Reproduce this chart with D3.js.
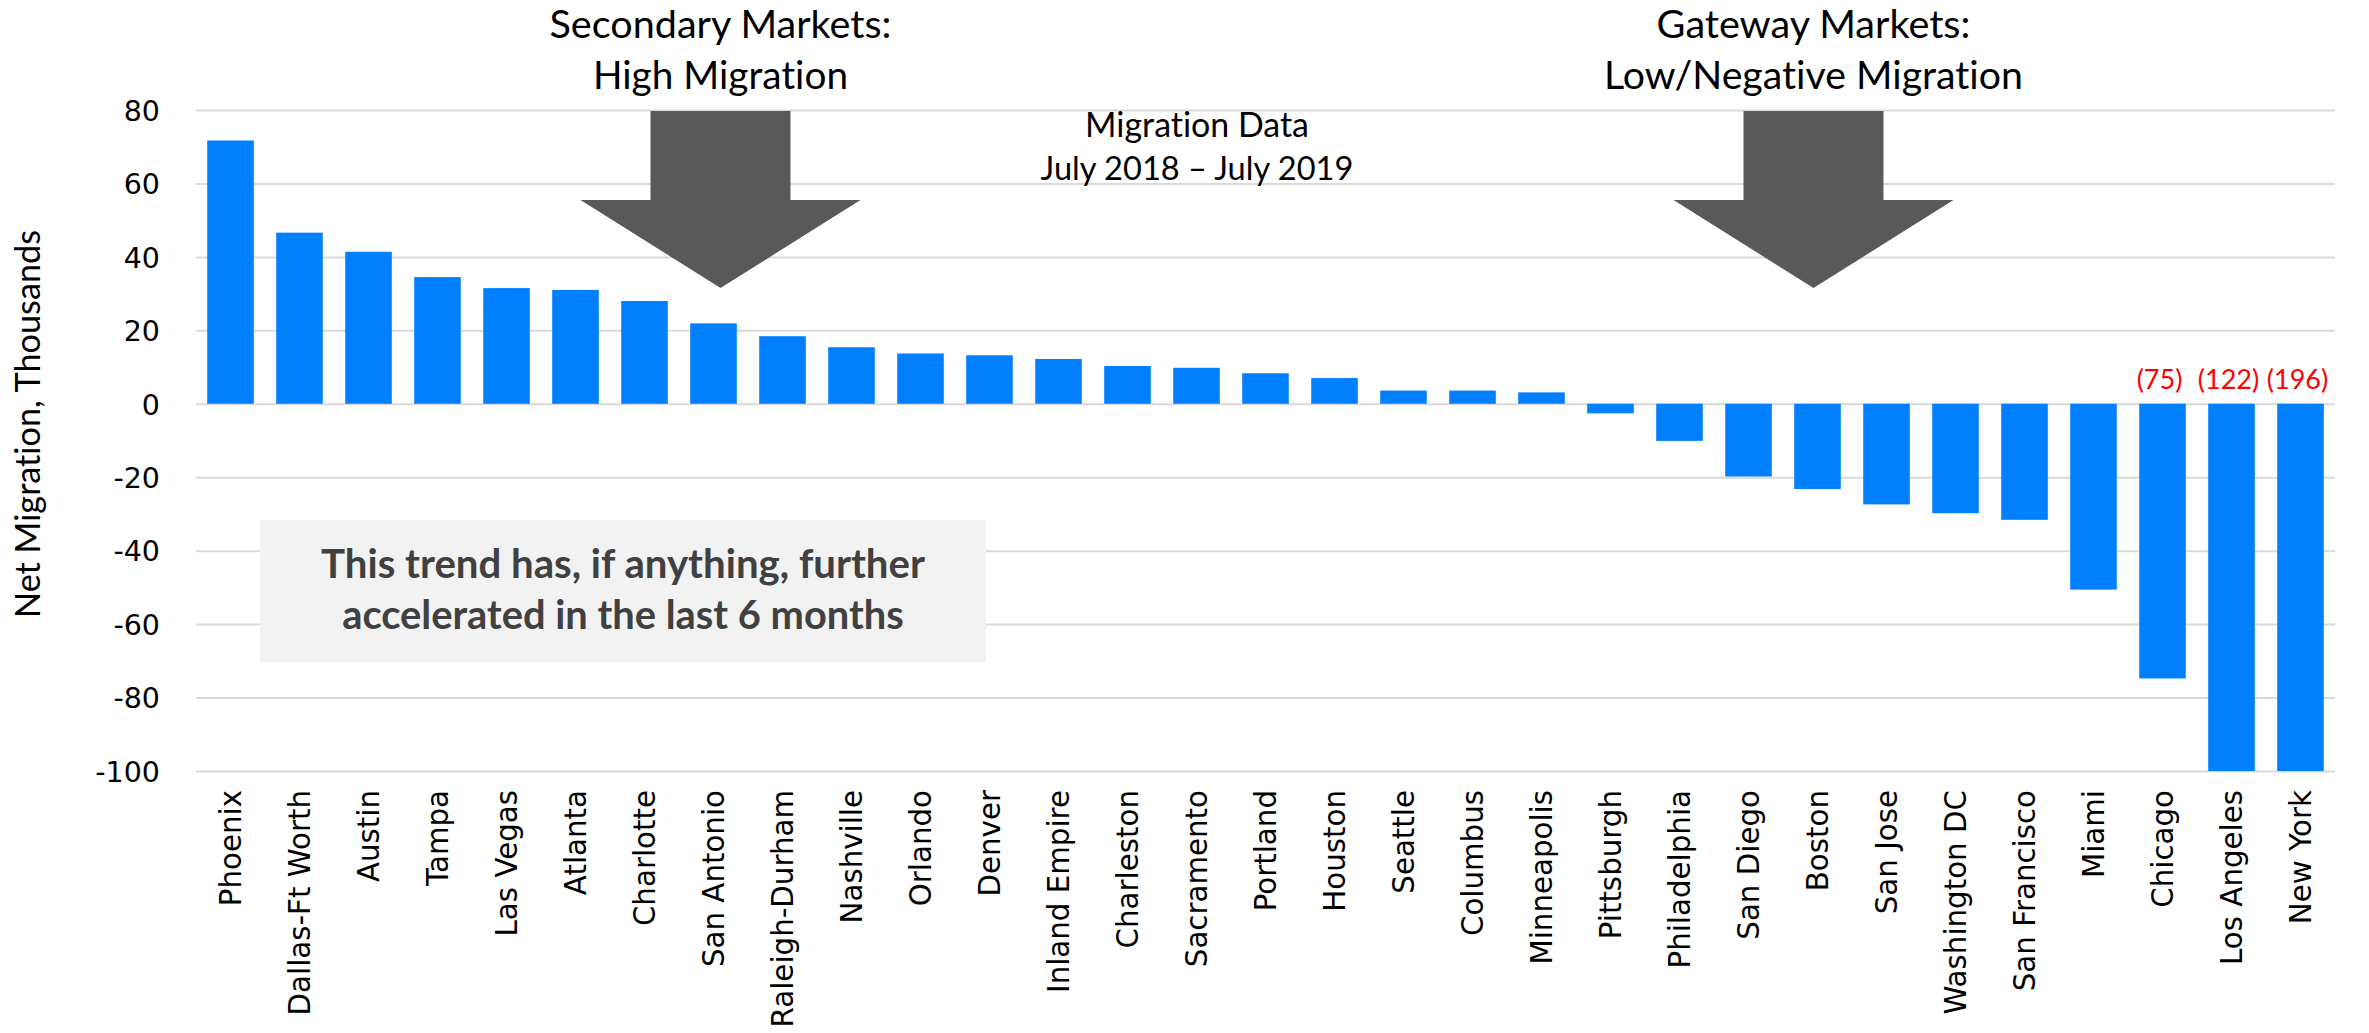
<!DOCTYPE html>
<html>
<head>
<meta charset="utf-8">
<script src="https://cdn.jsdelivr.net/npm/d3@7"></script>
<style>
  html, body { margin: 0; padding: 0; background: #fff; }
  svg { display: block; }
  svg text { font-variant-ligatures: none; font-feature-settings: "liga" 0; }
</style>
</head>
<body>
<svg id="chart" width="2369" height="1033"></svg>
<script>
// ---------------- DATA ----------------
const cities = ["Phoenix","Dallas-Ft Worth","Austin","Tampa","Las Vegas","Atlanta","Charlotte",
  "San Antonio","Raleigh-Durham","Nashville","Orlando","Denver","Inland Empire","Charleston",
  "Sacramento","Portland","Houston","Seattle","Columbus","Minneapolis","Pittsburgh","Philadelphia",
  "San Diego","Boston","San Jose","Washington DC","San Francisco","Miami","Chicago","Los Angeles","New York"];
const netMigration = [71.7, 46.6, 41.4, 34.5, 31.5, 31.0, 28.0,
  21.9, 18.4, 15.4, 13.7, 13.2, 12.2, 10.3,
  9.8, 8.3, 7.0, 3.6, 3.6, 3.1, -2.6, -10.1,
  -19.8, -23.2, -27.4, -29.8, -31.6, -50.6, -74.8, -122, -196];
const yTicks = [80, 60, 40, 20, 0, -20, -40, -60, -80, -100];
const yTitle = "Net Migration, Thousands";
const leftTitle = ["Secondary Markets:", "High Migration"];
const rightTitle = ["Gateway Markets:", "Low/Negative Migration"];
const periodNote = ["Migration Data", "July 2018 \u2013 July 2019"];
const boxNote = ["This trend has, if anything, further", "accelerated in the last 6 months"];
const leftArrowCity = "San Antonio";
const rightArrowCity = "Boston";
const calloutThreshold = -70;

// ---------------- LAYOUT ----------------
const svg = d3.select("#chart");
const data = cities.map((c, i) => ({ city: c, value: netMigration[i] }));

const gridLeft = 196, gridRight = 2335, plotTop = 110, plotBottom = 771;
const x = d3.scaleBand().domain(cities).range([gridLeft, gridRight])
  .paddingInner(0.325).paddingOuter(0.1625);
const y = d3.scaleLinear().domain([-100, 80]).range([plotBottom, plotTop]);

const BAR = "#0080FF", GRID = "#D9D9D9", ARROW = "#595959";
const SANS = "Lato, 'Noto Sans', sans-serif";
const TICKFONT = "'DejaVu Sans', Verdana, sans-serif";

// fit font size of a text element to a target width
function fit(sel, target) {
  sel.each(function () {
    const base = parseFloat(this.getAttribute("font-size"));
    const w = this.getComputedTextLength();
    if (w > 0) this.setAttribute("font-size", (base * target / w).toFixed(2));
  });
}

// gridlines + y tick labels via axis
const yAxis = d3.axisLeft(y).tickValues(yTicks).tickSize(-(gridRight - gridLeft)).tickPadding(36)
  .tickFormat(d => String(d));
const gy = svg.append("g").attr("transform", `translate(${gridLeft},0)`).call(yAxis);
gy.select(".domain").remove();
gy.selectAll(".tick line").attr("stroke", GRID).attr("stroke-width", 2);
gy.selectAll(".tick text").attr("font-family", TICKFONT).attr("font-size", 28.5)
  .attr("fill", "#000").attr("dy", "0.36em");

// bars (clipped at axis minimum)
svg.append("g").selectAll("rect").data(data).join("rect")
  .attr("x", d => x(d.city))
  .attr("width", x.bandwidth())
  .attr("y", d => y(Math.max(0, d.value)))
  .attr("height", d => Math.abs(y(Math.max(d.value, -100)) - y(0)))
  .attr("fill", BAR);

// x axis labels (rotated)
const gx = svg.append("g").attr("transform", `translate(0,${plotBottom})`)
  .call(d3.axisBottom(x).tickSize(0).tickPadding(0));
gx.select(".domain").remove();
gx.selectAll(".tick text")
  .attr("font-family", TICKFONT).attr("font-size", 29.3).attr("fill", "#000")
  .attr("text-anchor", "end")
  .attr("transform", "translate(0,19) rotate(-90)")
  .attr("x", 0).attr("y", 0).attr("dy", "0.36em");

// red callouts for off-scale values
svg.append("g").selectAll("text").data(data.filter(d => d.value < calloutThreshold)).join("text")
  .attr("x", d => x(d.city) + x.bandwidth() / 2 - 3)
  .attr("y", 389)
  .attr("text-anchor", "middle")
  .attr("font-family", SANS).attr("font-size", 27).attr("fill", "#FF0000")
  .text(d => `(${Math.round(-d.value)})`);

// y axis title
svg.append("text")
  .attr("transform", `translate(40,424) rotate(-90)`)
  .attr("text-anchor", "middle")
  .attr("font-family", SANS).attr("font-size", 34).attr("fill", "#000")
  .text(yTitle)
  .call(fit, 388);

// arrows
function arrow(cx) {
  const bw = 70, hw = 140, top = y(80) + 1, neck = 200, tip = 288;
  const pts = [[cx - bw, top], [cx + bw, top], [cx + bw, neck], [cx + hw, neck],
               [cx, tip], [cx - hw, neck], [cx - bw, neck]];
  svg.append("polygon").attr("points", pts.map(p => p.join(",")).join(" ")).attr("fill", ARROW);
}
const leftCx = x(leftArrowCity) + x.bandwidth() / 2 + 7;
const rightCx = x(rightArrowCity) + x.bandwidth() / 2 - 4;
arrow(leftCx);
arrow(rightCx);

// arrow titles
function titleBlock(lines, cx, widths) {
  const baselines = [38, 89];
  lines.forEach((t, i) => {
    svg.append("text").attr("x", cx).attr("y", baselines[i])
      .attr("text-anchor", "middle").attr("font-family", SANS).attr("font-size", 40)
      .attr("fill", "#000").text(t).call(fit, widths[i]);
  });
}
titleBlock(leftTitle, leftCx, [342, 255]);
titleBlock(rightTitle, rightCx, [314, 419]);

// period note
[[periodNote[0], 137, 224], [periodNote[1], 180, 313]].forEach(([t, by, w]) => {
  svg.append("text").attr("x", 1197).attr("y", by).attr("text-anchor", "middle")
    .attr("font-family", SANS).attr("font-size", 34).attr("fill", "#000").text(t).call(fit, w);
});

// grey note box
svg.append("rect").attr("x", 260).attr("y", 520).attr("width", 726).attr("height", 142).attr("fill", "#F2F2F2");
[[boxNote[0], 578, 604], [boxNote[1], 629, 562]].forEach(([t, by, w]) => {
  svg.append("text").attr("x", 623).attr("y", by).attr("text-anchor", "middle")
    .attr("font-family", SANS).attr("font-weight", "bold").attr("font-size", 34)
    .attr("fill", "#404040").text(t).call(fit, w);
});
</script>
</body>
</html>
